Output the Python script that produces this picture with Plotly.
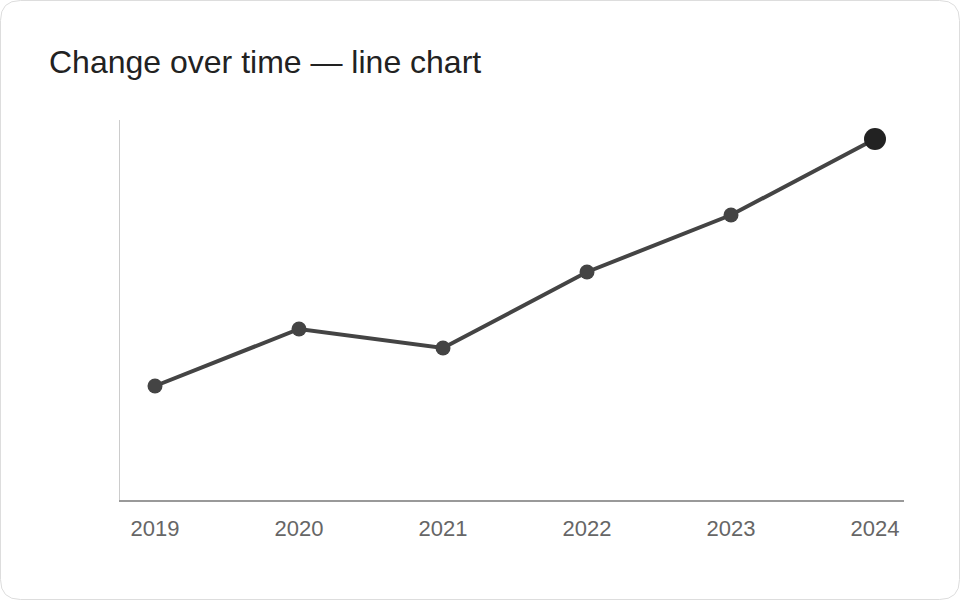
import plotly.graph_objects as go

W, H = 960, 600

# data
years = [2019, 2020, 2021, 2022, 2023, 2024]
values = [30, 45, 40, 60, 75, 95]
tick_labels = ["2019", "2020", "2021", "2022", "2023", "2024"]

LINE_COLOR = "#444444"
LAST_COLOR = "#222222"
FONT = "Liberation Sans, Arial, sans-serif"


def px_x(p):
    return p / W


def px_y(p):
    return 1 - p / H


def rounded_rect(x0, y0, x1, y1, r):
    # path in paper coords, corners given in pixels
    rx, ry = r / W, r / H
    X0, X1 = px_x(x0), px_x(x1)
    Y0, Y1 = px_y(y0), px_y(y1)  # Y0 top, Y1 bottom
    return (
        f"M {X0 + rx},{Y0} L {X1 - rx},{Y0} Q {X1},{Y0} {X1},{Y0 - ry} "
        f"L {X1},{Y1 + ry} Q {X1},{Y1} {X1 - rx},{Y1} "
        f"L {X0 + rx},{Y1} Q {X0},{Y1} {X0},{Y1 + ry} "
        f"L {X0},{Y0 - ry} Q {X0},{Y0} {X0 + rx},{Y0} Z"
    )


fig = go.Figure()

fig.add_trace(
    go.Scatter(
        x=years,
        y=values,
        mode="lines+markers",
        line=dict(color=LINE_COLOR, width=4),
        marker=dict(
            color=[LINE_COLOR] * (len(years) - 1) + [LAST_COLOR],
            size=[15] * (len(years) - 1) + [22],
            opacity=1,
            line=dict(width=0),
        ),
        hoverinfo="x+y",
        showlegend=False,
        cliponaxis=False,
    )
)

fig.add_shape(
    type="path",
    xref="paper",
    yref="paper",
    path=rounded_rect(0.5, 0.5, W - 0.5, H - 0.5, 20),
    line=dict(color="#dddddd", width=1),
    fillcolor="white",
    layer="below",
)

fig.add_annotation(
    text="Change over time — line chart",
    xref="paper",
    yref="paper",
    x=px_x(47),
    y=px_y(62),
    xanchor="left",
    yanchor="middle",
    showarrow=False,
    font=dict(family=FONT, size=32, color="#222222"),
)

fig.update_layout(
    width=W,
    height=H,
    margin=dict(l=0, r=0, t=0, b=0),
    paper_bgcolor="white",
    plot_bgcolor="rgba(0,0,0,0)",
    font=dict(family=FONT),
    xaxis=dict(
        domain=[px_x(120), px_x(904)],
        range=[2019 - 35 / 144, 2024 + 29 / 144],
        tickvals=years,
        ticktext=tick_labels,
        showgrid=False,
        zeroline=False,
        showline=True,
        linecolor="#999999",
        linewidth=1.5,
        ticks="",
        ticklabelstandoff=8,
        tickfont=dict(family=FONT, size=22, color="#666666"),
        fixedrange=True,
    ),
    yaxis=dict(
        domain=[px_y(500), px_y(120)],
        range=[0, 100],
        showgrid=False,
        zeroline=False,
        showline=True,
        linecolor="#cccccc",
        linewidth=1,
        showticklabels=False,
        ticks="",
        fixedrange=True,
    ),
)

# drop the default 8px body margin so the card sits at the window edge
fig.write_html(
    "out.html",
    config={"displayModeBar": False},
    post_script="document.body.style.margin='0';",
)
